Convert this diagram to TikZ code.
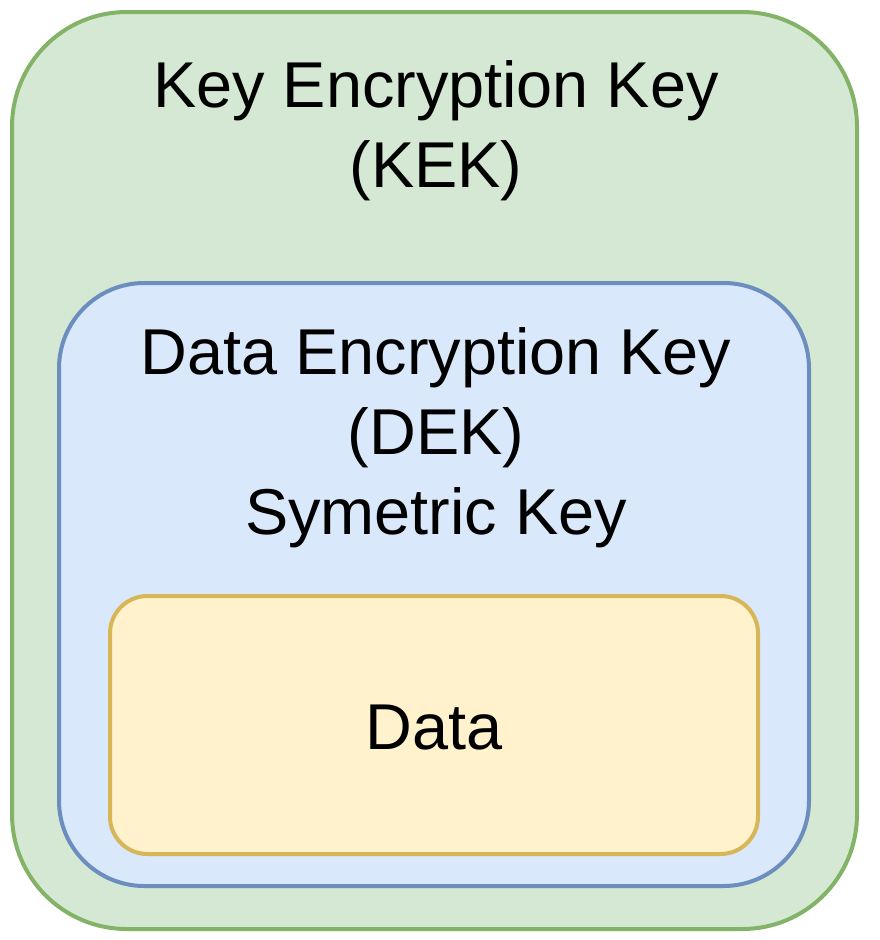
\documentclass[tikz,border=0pt]{standalone}
\usepackage{fontspec}
\setmainfont{Liberation Sans}
\definecolor{kekfill}{HTML}{D5E8D4}
\definecolor{kekline}{HTML}{82B366}
\definecolor{dekfill}{HTML}{DAE8FC}
\definecolor{dekline}{HTML}{6C8EBF}
\definecolor{datafill}{HTML}{FFF2CC}
\definecolor{dataline}{HTML}{D6B656}
\tikzset{
  keybox/.style={draw,line width=3pt,inner sep=0pt},
  keytext/.style={align=center,font=\fontsize{48.6pt}{60pt}\selectfont}
}
\begin{document}
\begin{tikzpicture}[x=0.75pt,y=-0.75pt]
  \useasboundingbox (0,0) rectangle (880,940);
  \node[keybox,draw=kekline,fill=kekfill,rounded corners=86pt,
        minimum width=633.75pt,minimum height=687.75pt] (kek) at (434.5,470.5) {};
  \node[keybox,draw=dekline,fill=dekfill,rounded corners=64pt,
        minimum width=562.5pt,minimum height=452.25pt] (dek) at (434,584.5) {};
  \node[keybox,draw=dataline,fill=datafill,rounded corners=28pt,
        minimum width=486pt,minimum height=193.5pt] (data) at (434,725) {};
  \node[keytext] (kektext) at (436,131) {Key Encryption Key\\(KEK)};
  \node[keytext] (dektext) at (436,438) {Data Encryption Key\\(DEK)\\Symetric Key};
  \node[keytext] (datatext) at (434,728) {Data};
\end{tikzpicture}
\end{document}
